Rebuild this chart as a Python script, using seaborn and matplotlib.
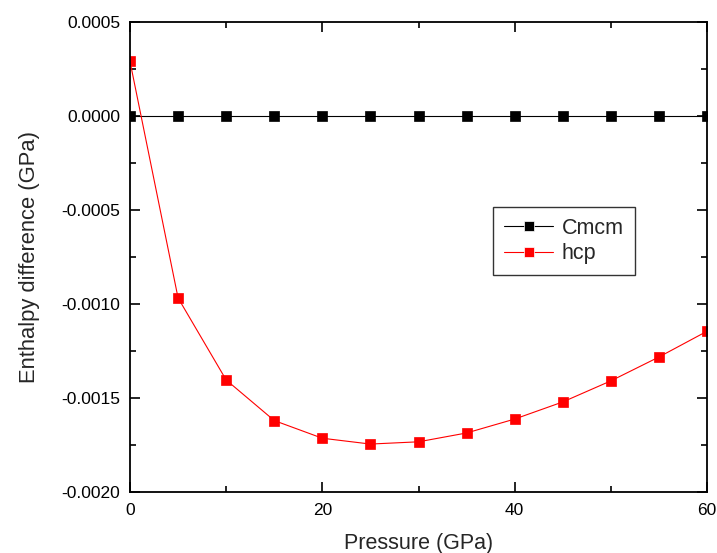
import numpy as np
import pandas as pd
import matplotlib
matplotlib.use("Agg")
import matplotlib.pyplot as plt
import seaborn as sns
from matplotlib.ticker import MultipleLocator, FormatStrFormatter

pressure = [0, 5, 10, 15, 20, 25, 30, 35, 40, 45, 50, 55, 60]
cmcm = [0.0] * 13
hcp = [0.00029, -0.000968, -0.001404, -0.001620, -0.001714, -0.001745, -0.001733,
       -0.001686, -0.001612, -0.001521, -0.001409, -0.001282, -0.001145]
series_names = ["Cmcm", "hcp"]
colors = ["black", "red"]

df = pd.DataFrame({
    "Pressure": pressure * 2,
    "dH": cmcm + hcp,
    "phase": [series_names[0]] * 13 + [series_names[1]] * 13,
})

sns.set_style("ticks")
plt.rcParams["font.family"] = ["Liberation Sans", "DejaVu Sans"]

fig = plt.figure(figsize=(7.17, 5.53), dpi=100)
ax = fig.add_axes([130 / 717, 1 - 492 / 553, (707 - 130) / 717, (492 - 22) / 553])

sns.lineplot(data=df, x="Pressure", y="dH", hue="phase", palette=colors,
             marker="s", markersize=7, markeredgewidth=0.5, linewidth=0.8,
             ax=ax, legend=True)
for ln, c in zip(ax.get_lines(), colors):
    ln.set_markeredgecolor(c)

ax.set_xlim(0, 60)
ax.set_ylim(-0.0020, 0.0005)
ax.xaxis.set_major_locator(MultipleLocator(20))
ax.xaxis.set_minor_locator(MultipleLocator(10))
ax.yaxis.set_major_locator(MultipleLocator(0.0005))
ax.yaxis.set_minor_locator(MultipleLocator(0.00025))
ax.yaxis.set_major_formatter(FormatStrFormatter("%.4f"))
ax.tick_params(which="both", direction="in", top=True, right=True, width=1.2,
               labelsize=12.5, colors="black")
ax.tick_params(axis="y", which="both", pad=7)
ax.tick_params(axis="x", which="both", pad=8)
ax.tick_params(which="major", length=7)
ax.tick_params(which="minor", length=4)
for sp in ax.spines.values():
    sp.set_linewidth(1.3)
    sp.set_color("black")

ax.set_xlabel("Pressure (GPa)", fontsize=15.5, labelpad=11)
ax.set_ylabel("Enthalpy difference (GPa)", fontsize=15.8, labelpad=15)

leg = ax.legend(loc="upper left", bbox_to_anchor=(493 / 717, 1 - 207 / 553),
                bbox_transform=fig.transFigure, borderaxespad=0, fontsize=15.5,
                frameon=True, fancybox=False, edgecolor="black", handlelength=2.3,
                handletextpad=0.4, borderpad=0.5, labelspacing=0.2)
leg.get_frame().set_linewidth(1.0)

fig.savefig("out.png", dpi=100)
